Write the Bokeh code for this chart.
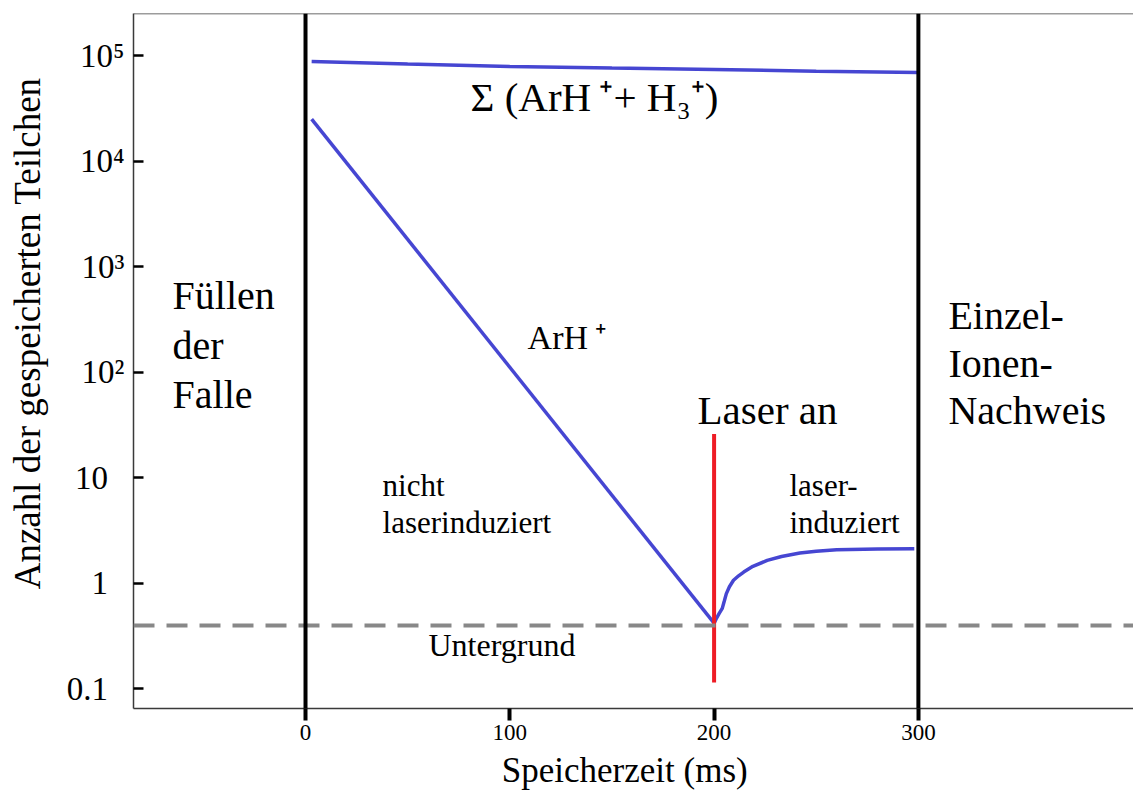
from bokeh.plotting import figure
from bokeh.models import Range1d, FixedTicker, Span, Label
from bokeh.embed import file_html
from bokeh.resources import INLINE

# ---------------- data ----------------
sum_t = [3, 50, 100, 150, 200, 250, 300]
sum_n = [87700, 83000, 78700, 76000, 73700, 71000, 69000]

arh_t = [3, 200]
arh_n = [25000, 0.42]

laser_t = [200, 201, 202.5, 204, 205, 206, 207.5, 209.5, 212, 214.5, 219,
           226, 233, 242, 250, 260, 280, 298]
laser_n = [0.42, 0.46, 0.52, 0.58, 0.68, 0.80, 0.93, 1.07, 1.18, 1.28, 1.45,
           1.65, 1.80, 1.94, 2.02, 2.08, 2.12, 2.13]

background_level = 0.4
laser_on_t = 200
laser_marker_n = [0.115, 26]
phase_bounds = [0, 300]

x_ticks = [0, 100, 200, 300]
y_ticks = [0.1, 1, 10, 100, 1000, 10000, 100000]
y_tick_labels = ["0.1", "1", "10", "10²", "10³", "10⁴", "10⁵"]

x_title = "Speicherzeit (ms)"
y_title = "Anzahl der gespeicherten Teilchen"

# ---------------- figure ----------------
SERIF = "Liberation Serif"
BLUE = "#4646d2"
RED = "#ee1c25"
AXIS = "#3a3a3a"
PX_PER_DECADE = 105.57

p = figure(width=1133, height=796, y_axis_type="log",
           x_range=Range1d(-84.2, 405.3),
           y_range=Range1d(10 ** -1.185, 10 ** 5.398),
           output_backend="svg", toolbar_location=None,
           min_border_left=133, min_border_right=0,
           min_border_top=13, min_border_bottom=88)
p.outline_line_color = None
p.xgrid.visible = False
p.ygrid.visible = False
p.background_fill_color = "white"
p.border_fill_color = "white"

# x axis
xa = p.xaxis[0]
xa.ticker = FixedTicker(ticks=x_ticks)
xa.minor_tick_line_color = None
xa.major_tick_in = 0
xa.major_tick_out = 12
xa.major_tick_line_width = 4
xa.major_tick_line_color = "black"
xa.axis_line_color = AXIS
xa.axis_line_width = 1.5
xa.major_label_text_font = SERIF
xa.major_label_text_font_size = "23px"
xa.major_label_text_color = "black"
xa.major_label_standoff = 4
xa.axis_label = x_title + "\u00a0\u00a0"
xa.axis_label_text_font = SERIF
xa.axis_label_text_font_size = "35px"
xa.axis_label_text_font_style = "normal"
xa.axis_label_text_color = "black"
xa.axis_label_standoff = 8

# y axis
ya = p.yaxis[0]
ya.ticker = FixedTicker(ticks=y_ticks)
ya.major_label_overrides = {
    v: (s if any(c in s for c in "²³⁴⁵") else s + "\u2002")
    for v, s in zip(y_ticks, y_tick_labels)}
ya.minor_tick_line_color = None
ya.major_tick_in = 10
ya.major_tick_out = 0
ya.major_tick_line_width = 2.5
ya.major_tick_line_color = "black"
ya.axis_line_color = AXIS
ya.axis_line_width = 1.5
ya.major_label_text_font = SERIF
ya.major_label_text_font_size = "33px"
ya.major_label_text_color = "black"
ya.major_label_standoff = 9
ya.axis_label = "\u00a0" * 6 + y_title
ya.axis_label_text_font = SERIF
ya.axis_label_text_font_size = "37px"
ya.axis_label_text_font_style = "normal"
ya.axis_label_text_color = "black"
ya.axis_label_standoff = 16

# top border
p.add_layout(Span(location=p.y_range.end, dimension="width",
                  line_color=AXIS, line_width=1.5))

# background (Untergrund) dashed line
p.add_layout(Span(location=background_level, dimension="width",
                  line_color="#888888", line_width=4, line_dash="21 12"))

# phase boundaries
for b in phase_bounds:
    p.add_layout(Span(location=b, dimension="height",
                      line_color="black", line_width=4))

# curves
p.line(sum_t, sum_n, line_color=BLUE, line_width=3.5)
p.line(arh_t, arh_n, line_color=BLUE, line_width=3.5)
p.line(laser_t, laser_n, line_color=BLUE, line_width=3.5)
p.line([laser_on_t, laser_on_t], laser_marker_n, line_color=RED, line_width=4)


def lbl(text, x, y, size):
    # raise the anchor a little so that the baseline sits where it should
    y_adj = y * 10 ** (0.32 * size / PX_PER_DECADE)
    p.add_layout(Label(x=x, y=y_adj, text=text, text_font=SERIF,
                       text_font_size=f"{size}px", text_color="black",
                       text_align="left", text_baseline="alphabetic"))


# region annotations
lbl("Füllen", -65.1, 402.7, 40)
lbl("der", -65.1, 135.3, 40)
lbl("Falle", -65.1, 46.5, 40)
lbl("Einzel-", 314.7, 260.3, 40)
lbl("Ionen-", 314.7, 91.4, 40)
lbl("Nachweis", 314.7, 32.8, 40)
lbl("Laser an", 191.9, 32.8, 41)
lbl("laser-", 236.9, 6.82, 31)
lbl("induziert", 236.9, 3.04, 31)
lbl("nicht", 37.7, 6.82, 31)
lbl("laserinduziert", 37.7, 3.04, 31)
lbl("Untergrund", 60.2, 0.208, 32)
lbl("ArH\u2009⁺", 108.7, 168.3, 34)
lbl("Σ (ArH\u2009⁺+ H₃⁺)", 80.8, 30200, 41)

open("out.html", "w").write(file_html(p, INLINE))
